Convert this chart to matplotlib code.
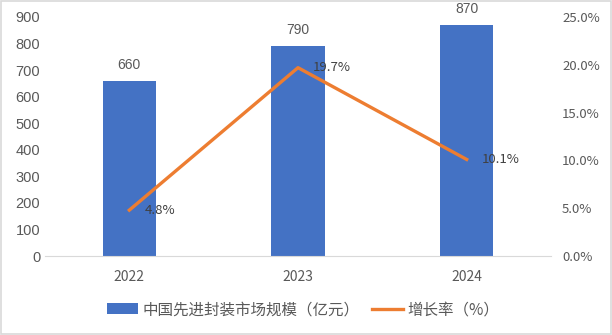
import matplotlib.pyplot as plt
from matplotlib.patches import Rectangle
from matplotlib.ticker import FuncFormatter, MultipleLocator

plt.rcParams["font.family"] = ["Noto Sans CJK SC", "DejaVu Sans"]

years = ["2022", "2023", "2024"]
market_size = [660, 790, 870]      # 亿元
growth_rate = [4.8, 19.7, 10.1]    # %

BAR_COLOR = "#4472C4"
LINE_COLOR = "#ED7D31"
TEXT_COLOR = "#595959"
GRID_COLOR = "#D9D9D9"

fig = plt.figure(figsize=(6.12, 3.35), dpi=100)
ax = fig.add_axes([45 / 612, 1 - 256 / 335, 506 / 612, 239 / 335])

x = list(range(len(years)))
bars = ax.bar(x, market_size, width=0.315, color=BAR_COLOR, zorder=2,
              label="中国先进封装市场规模（亿元）")
ax.set_xlim(-0.5, len(years) - 0.5)
ax.set_ylim(0, 900)
ax.yaxis.set_major_locator(MultipleLocator(100))
ax.set_xticks(x)
ax.set_xticklabels(years)

for xi, v in zip(x, market_size):
    ax.annotate(str(v), (xi, v), xytext=(0, 6.5), textcoords="offset points",
                ha="center", va="bottom", fontsize=10, color=TEXT_COLOR,
                family=["Liberation Sans", "DejaVu Sans"])

for side in ["top", "left", "right"]:
    ax.spines[side].set_visible(False)
ax.spines["bottom"].set_color(GRID_COLOR)
ax.tick_params(axis="both", length=0, colors=TEXT_COLOR, labelsize=10)
ax.tick_params(axis="x", pad=10)
for lbl in ax.get_yticklabels():
    lbl.set_family(["Liberation Sans", "DejaVu Sans"])
    lbl.set_fontsize(10.5)

ax2 = ax.twinx()
line, = ax2.plot(x, growth_rate, color=LINE_COLOR, linewidth=2.4, zorder=3,
                 label="增长率（%）")
ax2.set_ylim(0, 25)
ax2.yaxis.set_major_locator(MultipleLocator(5))
ax2.yaxis.set_major_formatter(FuncFormatter(lambda v, _: f"{v:.1f}%"))
for side in ["top", "left", "right", "bottom"]:
    ax2.spines[side].set_visible(False)
ax2.tick_params(axis="y", length=0, colors=TEXT_COLOR, labelsize=9.5, pad=8)

for xi, v in zip(x, growth_rate):
    ax2.annotate(f"{v}%", (xi, v), xytext=(11, 0), textcoords="offset points",
                 ha="left", va="center", fontsize=9.5, color="#404040")

fig.legend(handles=[bars, line], loc="center", bbox_to_anchor=(0.495, 0.075),
           ncol=2, frameon=False, fontsize=11.2, handlelength=2.0,
           handletextpad=0.3, columnspacing=0.8, labelcolor=TEXT_COLOR)

fig.patches.append(Rectangle((0.002, 0.003), 0.996, 0.994, transform=fig.transFigure,
                             fill=False, edgecolor=GRID_COLOR, linewidth=1.2))

fig.savefig("out.png", dpi=100, facecolor="white")
